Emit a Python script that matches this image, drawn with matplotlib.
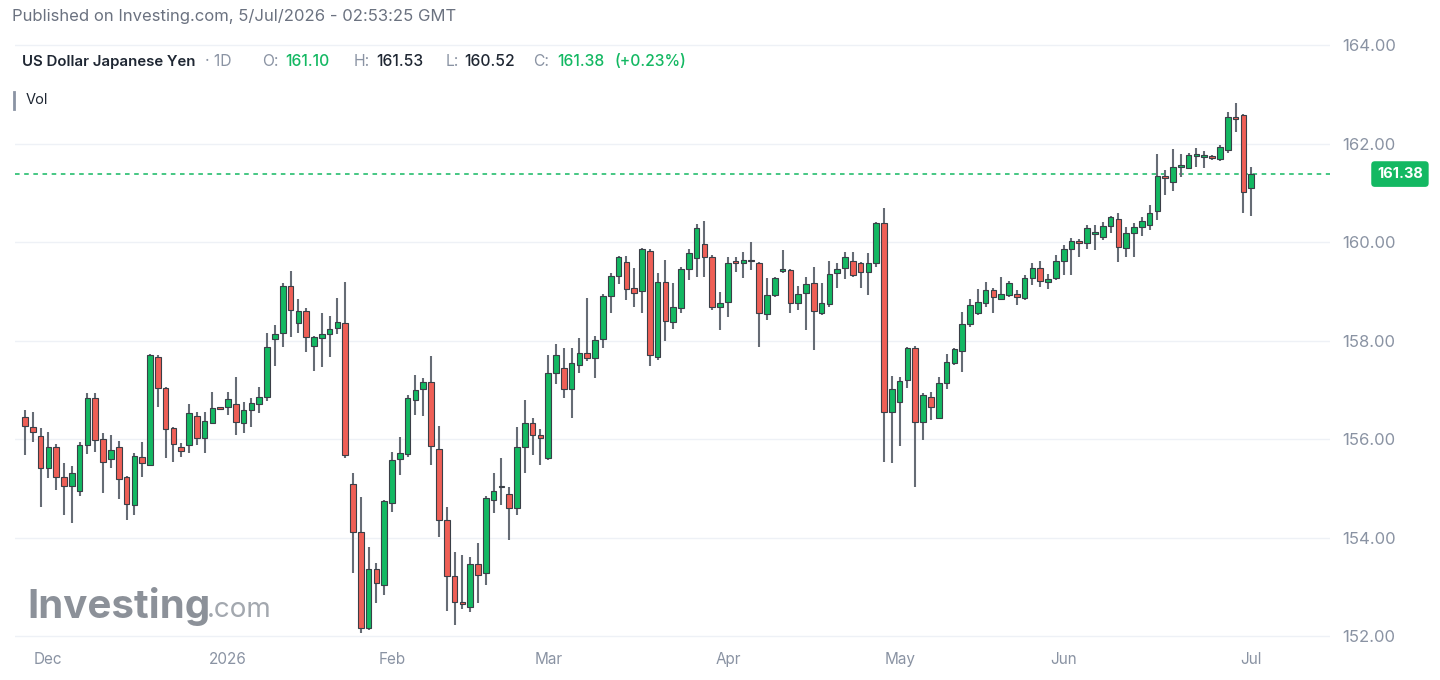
import matplotlib
matplotlib.use("Agg")
import matplotlib.pyplot as plt
import matplotlib.transforms as mtransforms
import numpy as np

# daily OHLC, USD/JPY, 26 Nov 2025 .. 3 Jul 2026
opens = [156.45, 156.24, 156.06, 155.41, 155.84, 155.23, 155.05, 154.94, 155.88, 156.83,
         156.00, 155.59, 155.84, 155.23, 154.66, 155.63, 155.47, 157.67, 157.04, 156.22,
         155.83, 155.88, 156.47, 156.02, 156.32, 156.63, 156.65, 156.71, 156.33, 156.59,
         156.71, 156.85, 158.03, 158.15, 159.11, 158.36, 158.60, 157.89, 158.05, 158.13,
         158.25, 158.36, 155.09, 154.11, 152.16, 153.36, 153.04, 154.70, 155.59, 155.70,
         156.79, 157.02, 157.16, 155.80, 154.36, 153.22, 152.69, 152.59, 153.46, 153.28,
         154.76, 155.02, 154.88, 154.60, 155.84, 156.33, 156.08, 155.61, 157.34, 157.44,
         157.02, 157.50, 157.75, 157.65, 158.03, 158.90, 159.31, 159.59, 159.07, 159.00,
         159.82, 157.67, 159.19, 158.38, 158.66, 159.45, 159.68, 159.96, 159.70, 158.68,
         158.78, 159.60, 159.57, 159.64, 159.57, 158.54, 158.92, 159.41, 159.43, 158.76,
         158.96, 159.17, 158.56, 158.74, 159.37, 159.47, 159.61, 159.57, 159.39, 159.57,
         160.39, 156.55, 156.75, 157.20, 157.85, 156.35, 156.85, 156.43, 157.14, 157.54,
         157.79, 158.34, 158.56, 158.76, 159.03, 158.84, 158.92, 158.94, 158.86, 159.27,
         159.47, 159.19, 159.27, 159.61, 159.86, 160.02, 159.98, 160.16, 160.10, 160.33,
         160.47, 159.88, 160.18, 160.30, 160.35, 160.63, 161.34, 161.22, 161.52, 161.50,
         161.75, 161.73, 161.75, 161.69, 161.87, 162.54, 162.58, 161.10]
highs = [156.59, 156.55, 156.22, 156.14, 155.90, 155.51, 155.45, 155.94, 156.93, 156.93,
         156.12, 156.08, 155.96, 155.25, 155.72, 155.94, 157.73, 157.71, 157.06, 156.24,
         155.92, 156.71, 156.55, 156.55, 156.96, 156.65, 156.96, 157.26, 156.75, 156.83,
         157.06, 158.15, 158.31, 159.17, 159.41, 158.84, 158.66, 158.09, 158.56, 158.50,
         158.86, 159.19, 155.31, 154.82, 153.81, 153.48, 154.76, 155.74, 156.04, 156.89,
         157.30, 157.24, 157.69, 156.26, 154.62, 153.71, 153.65, 153.60, 153.89, 154.84,
         155.31, 155.61, 155.02, 156.24, 156.79, 156.43, 156.20, 157.71, 157.93, 157.85,
         157.85, 158.05, 158.86, 158.09, 158.94, 159.37, 159.72, 159.72, 159.47, 159.88,
         159.86, 159.37, 159.63, 159.17, 159.49, 159.86, 160.37, 160.43, 159.74, 158.98,
         159.70, 159.70, 159.80, 160.00, 159.59, 159.27, 159.29, 159.84, 159.45, 159.11,
         159.29, 159.49, 159.17, 159.61, 159.57, 159.80, 159.80, 159.59, 159.78, 160.41,
         160.69, 157.28, 157.26, 157.87, 157.89, 156.93, 156.95, 157.26, 157.73, 157.85,
         158.58, 158.84, 159.05, 159.19, 159.07, 159.29, 159.21, 159.03, 159.33, 159.57,
         159.61, 159.35, 159.74, 159.94, 160.08, 160.06, 160.35, 160.35, 160.41, 160.53,
         160.59, 160.30, 160.39, 160.51, 160.75, 161.79, 161.47, 161.89, 161.79, 161.81,
         161.91, 161.85, 161.77, 161.97, 162.64, 162.82, 162.60, 161.53]
lows = [155.68, 155.94, 154.62, 155.21, 154.96, 154.46, 154.29, 154.84, 155.70, 155.74,
        154.90, 155.41, 154.78, 154.35, 154.46, 155.23, 155.45, 156.65, 155.61, 155.53,
        155.63, 155.72, 155.88, 155.72, 156.32, 156.59, 156.49, 156.08, 156.12, 156.24,
        156.53, 156.77, 157.48, 157.87, 158.07, 158.15, 157.77, 157.38, 157.46, 157.66,
        158.13, 155.61, 153.28, 152.06, 152.12, 152.67, 152.83, 154.52, 155.27, 155.63,
        156.49, 156.47, 155.47, 154.01, 152.51, 152.22, 152.55, 152.49, 152.67, 153.04,
        154.50, 154.66, 153.95, 154.46, 155.31, 155.68, 155.47, 155.57, 157.12, 156.83,
        156.43, 157.34, 157.58, 157.24, 157.85, 158.56, 159.15, 158.82, 158.68, 158.56,
        157.48, 157.61, 157.99, 158.23, 158.56, 159.23, 159.29, 159.29, 158.62, 158.21,
        158.48, 159.39, 159.27, 159.43, 157.87, 158.42, 158.88, 159.37, 158.56, 158.62,
        158.21, 157.81, 158.52, 158.68, 159.07, 159.25, 159.29, 159.07, 158.92, 159.49,
        155.53, 155.51, 155.86, 157.04, 155.03, 155.98, 156.39, 156.41, 157.02, 157.50,
        157.36, 158.27, 158.52, 158.68, 158.56, 158.82, 158.88, 158.72, 158.82, 159.13,
        159.09, 159.05, 159.23, 159.33, 159.33, 159.69, 159.86, 159.84, 160.04, 160.18,
        159.59, 159.69, 159.69, 160.12, 160.24, 160.45, 160.96, 161.04, 161.32, 161.48,
        161.52, 161.50, 161.67, 161.65, 161.81, 162.24, 160.59, 160.52]
closes = [156.26, 156.14, 155.41, 155.84, 155.23, 155.05, 155.31, 155.88, 156.83, 155.98,
          155.53, 155.78, 155.19, 154.68, 155.65, 155.51, 157.71, 157.04, 156.20, 155.90,
          155.76, 156.53, 156.02, 156.37, 156.63, 156.61, 156.81, 156.35, 156.59, 156.73,
          156.85, 157.87, 158.13, 159.11, 158.62, 158.60, 158.07, 158.07, 158.13, 158.23,
          158.38, 155.67, 154.11, 152.16, 153.36, 153.08, 154.74, 155.57, 155.72, 156.83,
          156.99, 157.16, 155.86, 154.36, 153.22, 152.69, 152.65, 153.46, 153.24, 154.80,
          154.94, 155.04, 154.60, 155.84, 156.33, 156.08, 156.02, 157.34, 157.71, 157.02,
          157.54, 157.75, 157.65, 158.01, 158.90, 159.31, 159.69, 159.05, 158.96, 159.86,
          157.71, 159.19, 158.40, 158.68, 159.45, 159.78, 160.28, 159.70, 158.68, 158.76,
          159.57, 159.57, 159.64, 159.61, 158.56, 158.92, 159.27, 159.43, 158.76, 158.94,
          159.15, 158.60, 158.76, 159.35, 159.45, 159.70, 159.33, 159.39, 159.57, 160.39,
          156.55, 157.02, 157.18, 157.85, 156.35, 156.89, 156.65, 157.14, 157.56, 157.83,
          158.34, 158.72, 158.78, 159.03, 158.88, 158.94, 159.17, 158.88, 159.27, 159.47,
          159.21, 159.25, 159.61, 159.86, 160.02, 159.98, 160.28, 160.18, 160.33, 160.51,
          159.90, 160.18, 160.30, 160.43, 160.59, 161.34, 161.30, 161.52, 161.56, 161.77,
          161.77, 161.75, 161.71, 161.93, 162.54, 162.50, 161.01, 161.38]

month_labels = ["Dec", "2026", "Feb", "Mar", "Apr", "May", "Jun", "Jul"]
month_pos = [3, 26, 47, 67, 90, 112, 133, 157]
price_ticks = [152, 154, 156, 158, 160, 162, 164]
last_price = 161.38

GREEN = "#13b862"
RED = "#ef5f56"
EDGE = "#3a3f47"
WICK = "#666c75"
GRAY = "#8a93a3"
DARK = "#1f2733"

plt.rcParams["font.family"] = ["Inter", "DejaVu Sans"]

fig = plt.figure(figsize=(14.4, 6.8), dpi=100)
ax = fig.add_axes([15 / 1440, 35 / 680, 1315 / 1440, 617 / 680])

o = np.array(opens)
h = np.array(highs)
l = np.array(lows)
c = np.array(closes)
x = np.arange(len(o))
up = c >= o

ax.vlines(x, l, h, color=WICK, lw=1.5, zorder=2)
body_low = np.minimum(o, c)
body_h = np.maximum(np.abs(c - o), 0.035)
colors = np.where(up, GREEN, RED)
ax.bar(x, body_h, bottom=body_low, width=0.72, color=colors,
       edgecolor=EDGE, linewidth=0.8, zorder=3)

ax.axhline(last_price, color=GREEN, lw=1.1, ls=(0, (3, 3)), zorder=1)

ax.set_xlim(-1.28, 167.1)
ax.set_ylim(151.82, 164.345)
ax.set_yticks(price_ticks)
ax.set_yticklabels([f"{v:.2f}" for v in price_ticks])
ax.yaxis.tick_right()
ax.set_xticks(month_pos)
ax.set_xticklabels(month_labels)
ax.tick_params(axis="y", length=0, pad=9, labelsize=12, labelcolor=GRAY)
ax.tick_params(axis="x", length=0, pad=5, labelsize=11, labelcolor=GRAY)
ax.grid(axis="y", color="#eef1f6", lw=1.0, zorder=0)
for s in ax.spines.values():
    s.set_visible(False)

# price tag on the right axis
trans = mtransforms.blended_transform_factory(ax.transAxes, ax.transData)
ax.text(1.0532, last_price, "161.38", transform=trans, ha="center", va="center",
        color="white", fontsize=10.5, fontweight="bold", clip_on=False,
        bbox=dict(boxstyle="round,pad=0.4,rounding_size=0.25", fc=GREEN, ec="none"))

# header texts
fig.text(12 / 1440, 1 - 17 / 680, "Published on Investing.com, 5/Jul/2026 - 02:53:25 GMT",
         color="#6b7280", fontsize=12, va="center")
y_leg = 1 - 62 / 680
fig.text(22 / 1440, y_leg, "US Dollar Japanese Yen", color=DARK, fontsize=10.8,
         fontweight="semibold", va="center")
parts = [(205, "· 1D", GRAY, "normal"),
         (262, "O:", GRAY, "normal"),
         (285, "161.10", GREEN, "medium"),
         (354, "H:", GRAY, "normal"),
         (376, "161.53", DARK, "medium"),
         (446, "L:", GRAY, "normal"),
         (464, "160.52", DARK, "medium"),
         (533, "C:", GRAY, "normal"),
         (557, "161.38", GREEN, "medium"),
         (614, "(+0.23%)", GREEN, "medium")]
for px, txt, col, wt in parts:
    fig.text(px / 1440, y_leg, txt, color=col, fontsize=11.3, fontweight=wt, va="center")

fig.add_artist(plt.Line2D([14 / 1440, 14 / 1440], [1 - 92 / 680, 1 - 109 / 680],
                          color=GRAY, lw=2))
fig.text(26 / 1440, 1 - 100 / 680, "Vol", color=DARK, fontsize=10.5, va="center")

# watermark
fig.text(27 / 1440, 1 - 607 / 680, "Investing", color="#8c9199", fontsize=29,
         fontweight="bold", va="center")
fig.text(207 / 1440, 1 - 610 / 680, ".com", color="#a3a8af", fontsize=20, va="center")

fig.savefig("out.png", dpi=100)
